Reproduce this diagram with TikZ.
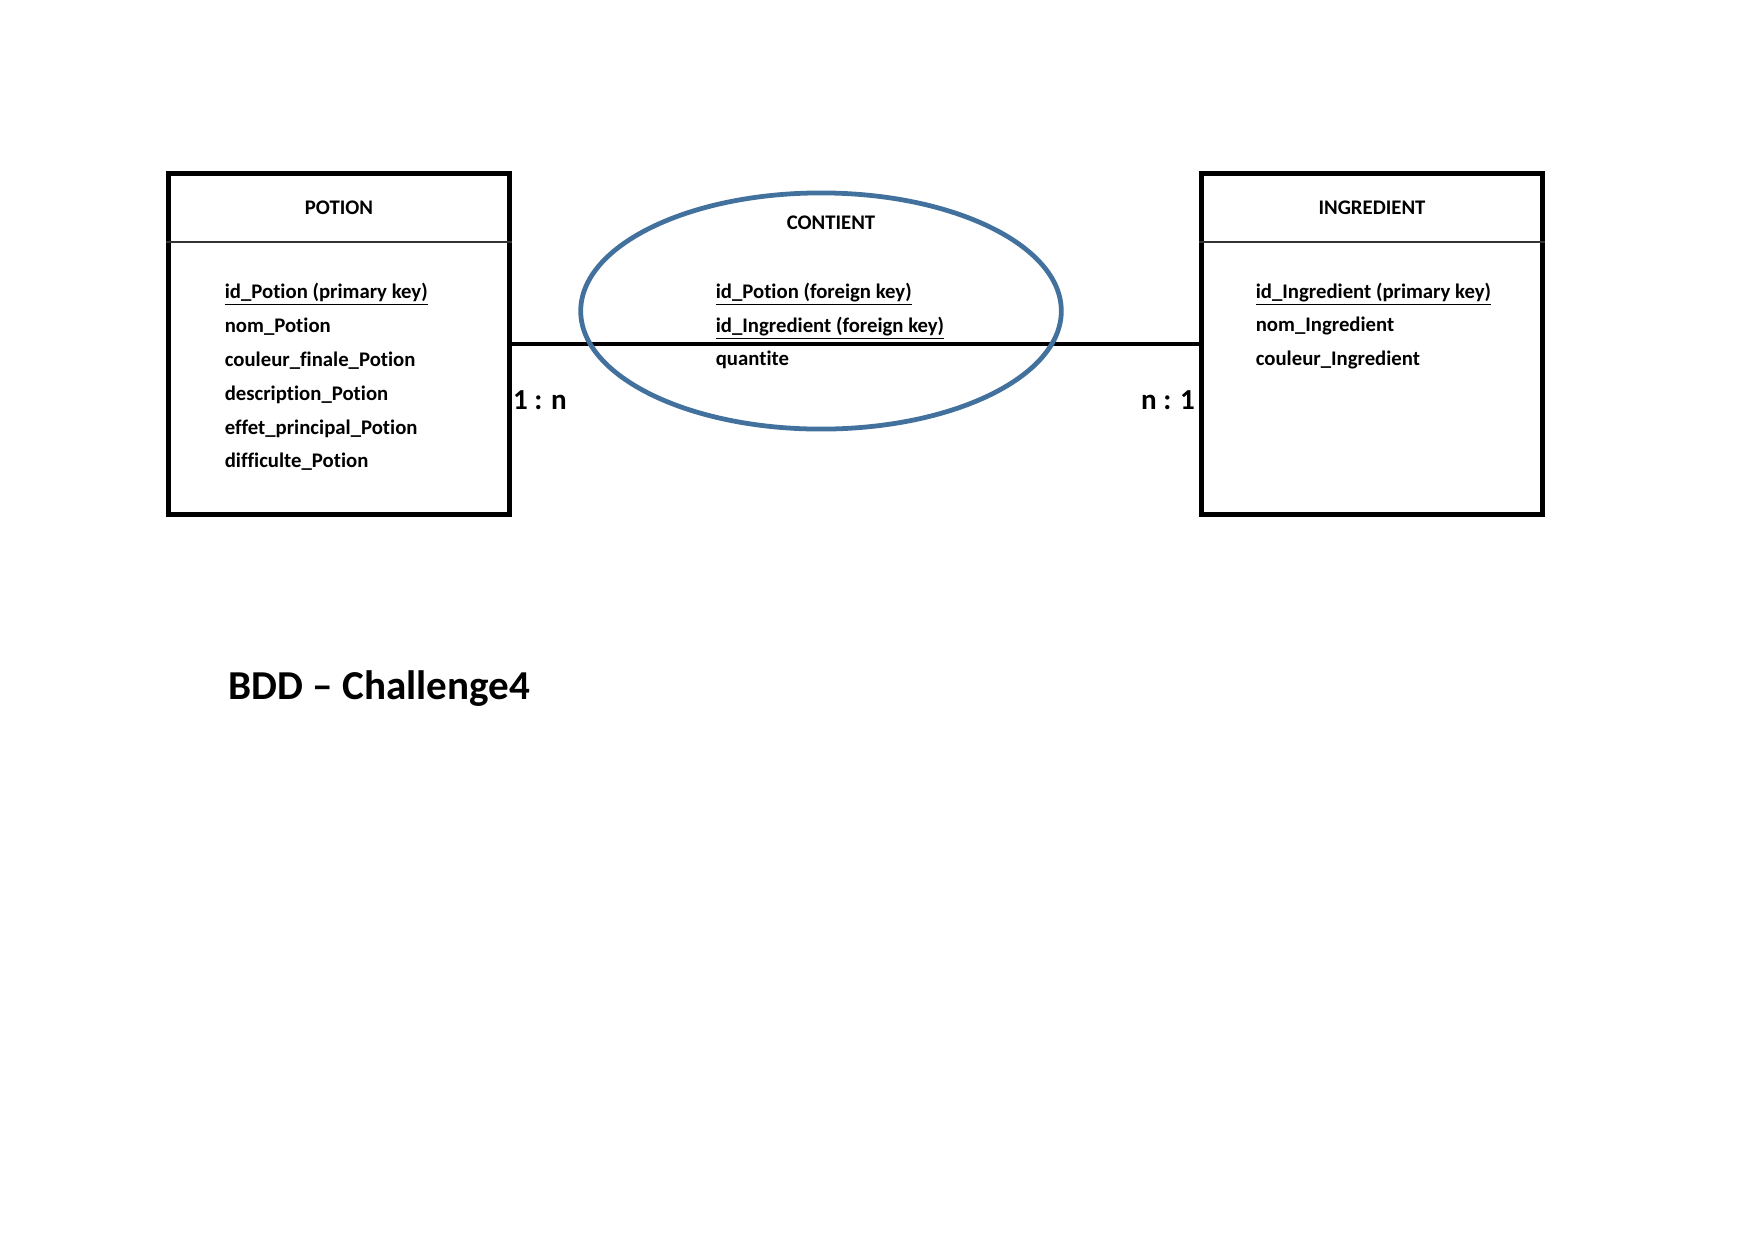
\documentclass[tikz,border=0pt]{standalone}
\usepackage{fontspec}
\setmainfont[Ligatures={NoCommon}]{Carlito}
\usetikzlibrary{shapes}
\usetikzlibrary{positioning}

\definecolor{relblue}{HTML}{41719C}

\begin{document}
\begin{tikzpicture}[x=0.016933cm,y=-0.016933cm,thick,
	table node/.style={draw,rectangle,line width=2.4pt,minimum width=5.76cm,minimum height=5.76cm,inner sep=0pt},
	head node/.style={font=\bfseries\fontsize{10}{12}\selectfont,align=center},
	row node/.style={font=\bfseries\fontsize{10}{16.3}\selectfont,align=left,anchor=west,inner sep=0pt},
	card node/.style={font=\bfseries\fontsize{14}{16}\selectfont},
	sep line/.style={line width=0.7pt,black!80},
	link/.style={line width=2.3pt}]
		
		\useasboundingbox (0,0) rectangle (1754,1240);
		
		\node[table node] at (339,344) (potion) {};
		\node[head node] at (339,208) (potionhead) {POTION};
		\draw[sep line] (potion.west |- 0,242) -- (potion.east |- 0,242);
		\node[row node] at (224,377) (potionrows) {\underline{id\_Potion (primary key)}\\ nom\_Potion\\ couleur\_finale\_Potion\\ description\_Potion\\ effet\_principal\_Potion\\ difficulte\_Potion};
		
		\node[table node] at (1372,344) (ingredient) {};
		\node[head node] at (1372,208) (ingredienthead) {INGREDIENT};
		\draw[sep line] (ingredient.west |- 0,242) -- (ingredient.east |- 0,242);
		\node[row node] at (1255,326) (ingredientrows) {\underline{id\_Ingredient (primary key)}\\ nom\_Ingredient\\ couleur\_Ingredient};
		
		\path (potion) edge[link] (ingredient);
		
		\node[draw=relblue,ellipse,line width=2.3pt,minimum width=8.14cm,minimum height=4cm,inner sep=0pt] at (821,311) (contient) {};
		\node[head node] at (831,223) (contienthead) {CONTIENT};
		\node[row node] at (715,326) (contientrows) {\underline{id\_Potion (foreign key)}\\ \underline{id\_Ingredient (foreign key)}\\ quantite};
		
		\node[card node] at (540,400) (card1) {1 : n};
		\node[card node] at (1168,400) (card2) {n : 1};
		
		\node[font=\bfseries\fontsize{19.8}{24}\selectfont,anchor=west,inner sep=0pt] at (228,689) (title) {BDD – Challenge4};
		
		\end{tikzpicture}
\end{document}
